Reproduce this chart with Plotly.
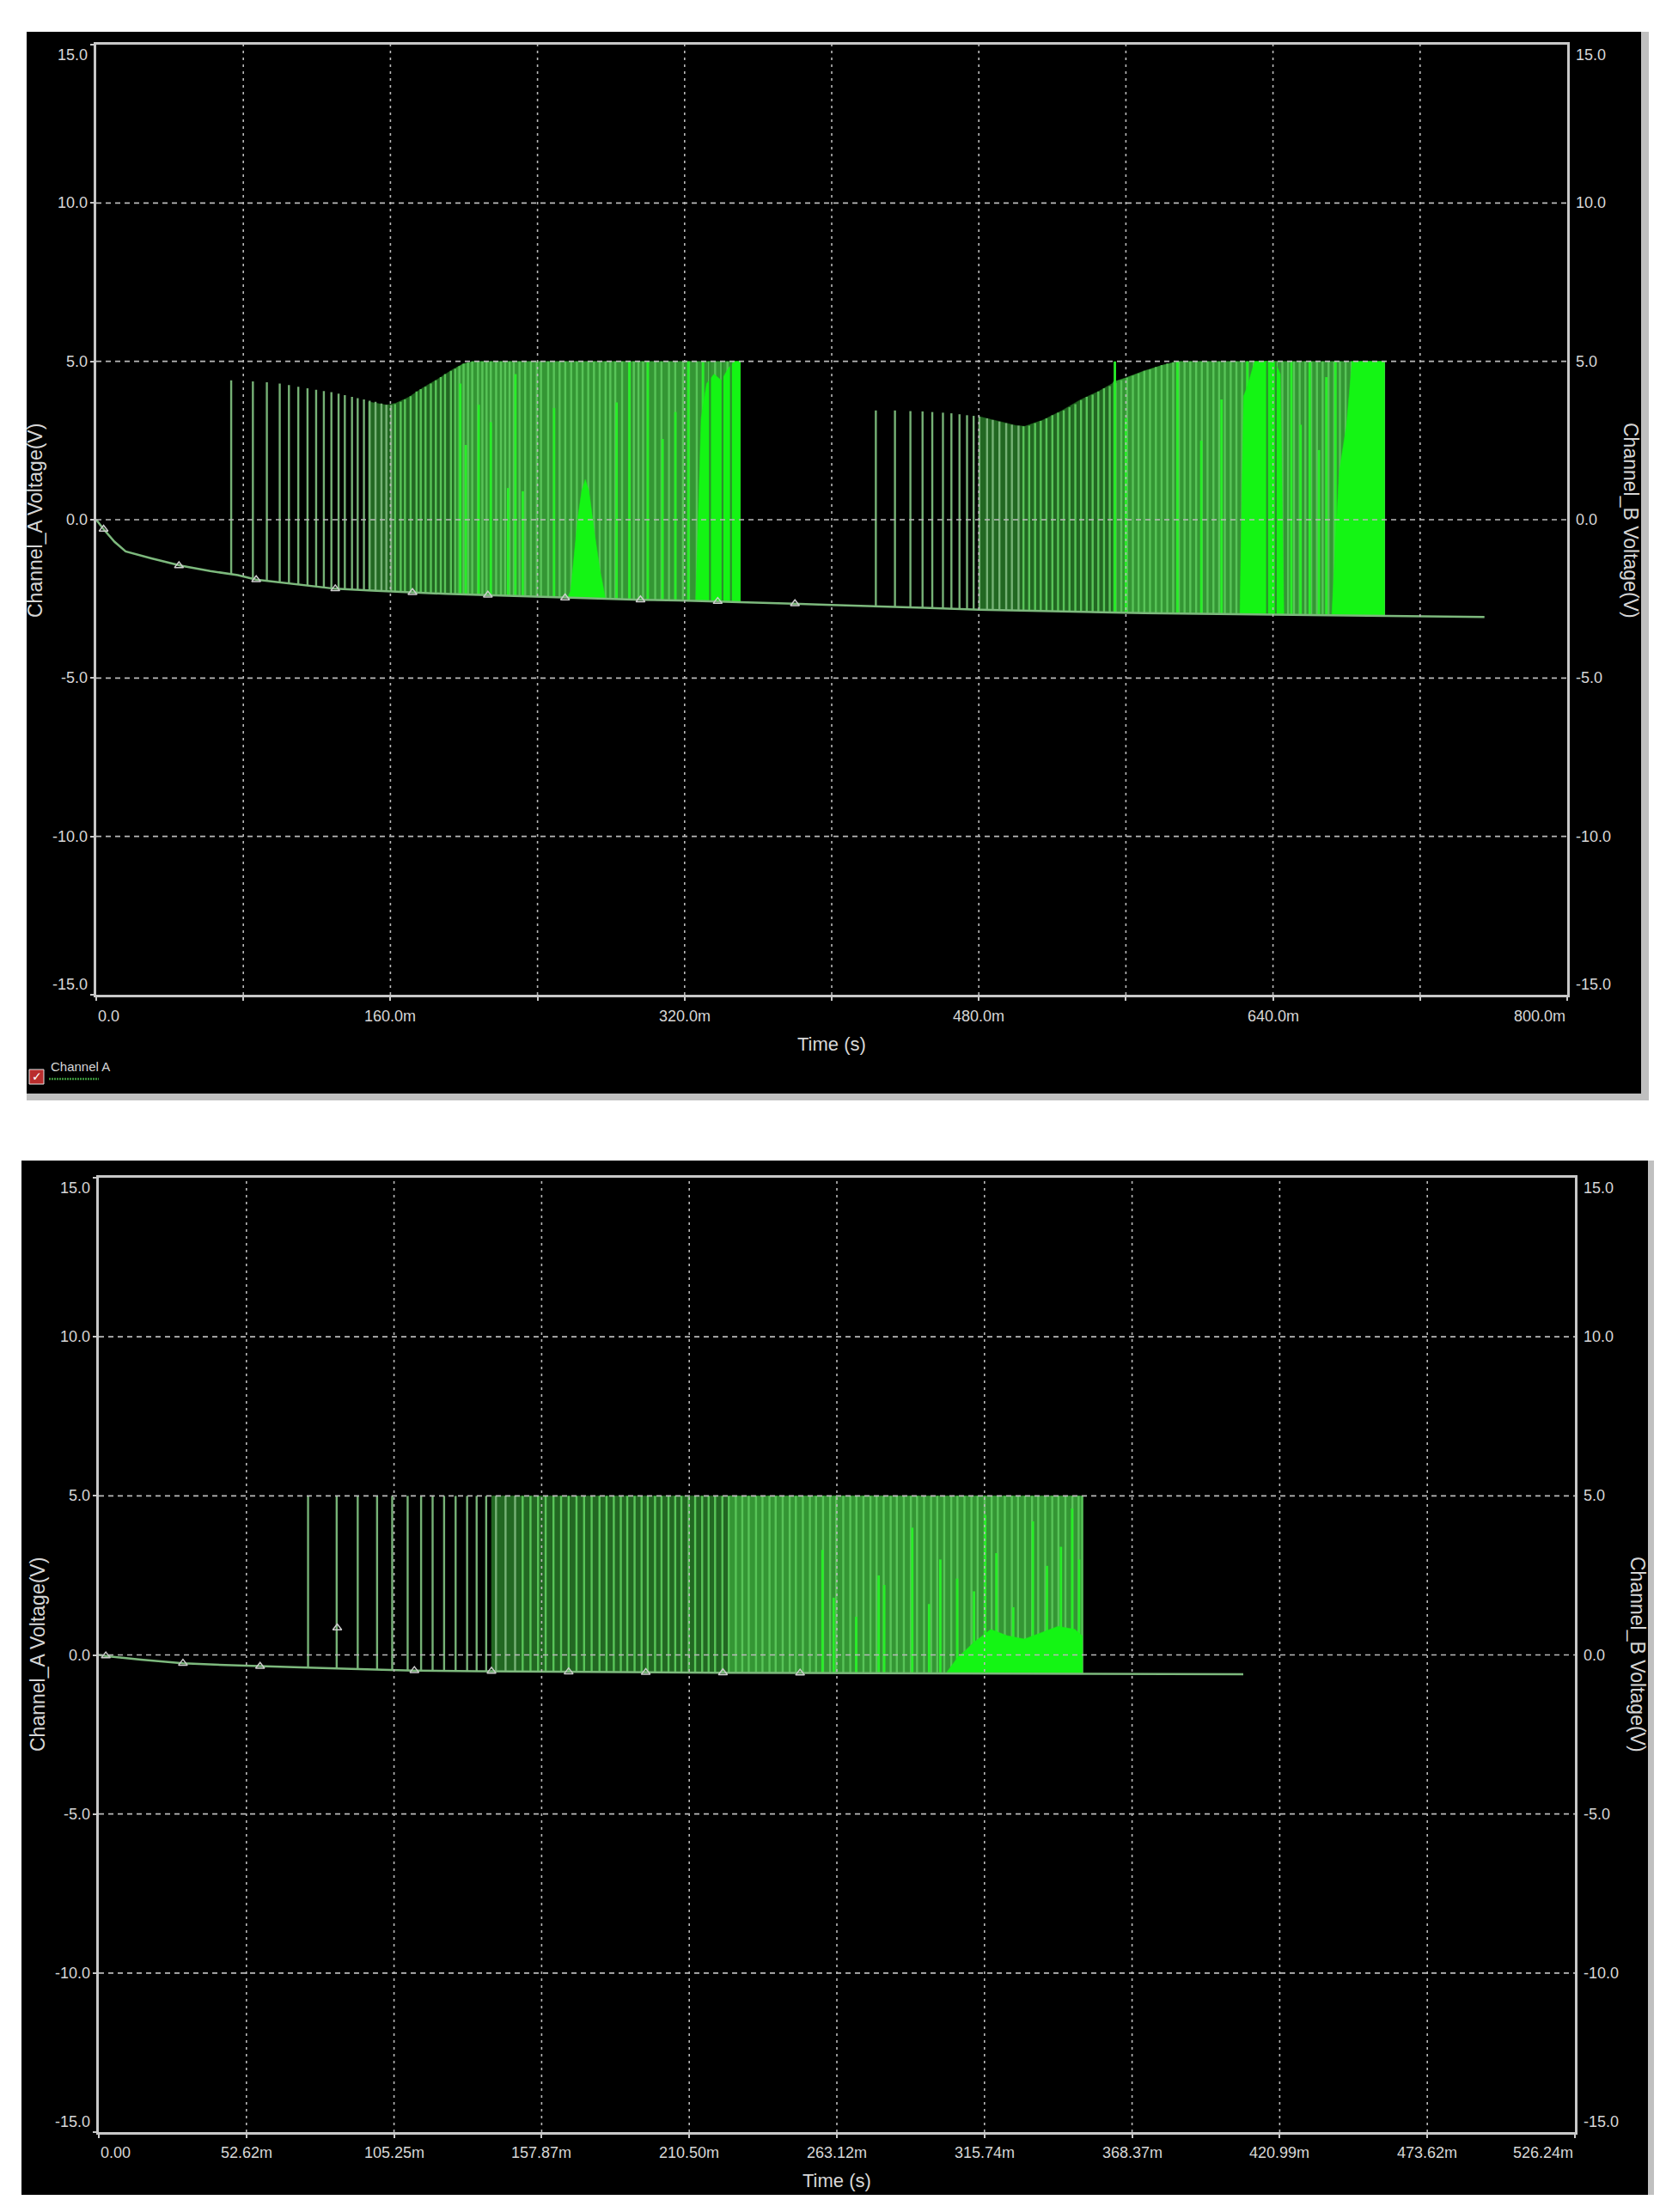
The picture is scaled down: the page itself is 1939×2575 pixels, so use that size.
import plotly.graph_objects as go

W, H = 1939, 2575

# ---------------- data (time in ms, voltage in V) ----------------
top_xticks = [0, 80, 160, 240, 320, 400, 480, 560, 640, 720, 800]
top_xlabels = ["0.0", "", "160.0m", "", "320.0m", "", "480.0m", "", "640.0m", "", "800.0m"]
bot_xticks = [0, 52.624, 105.248, 157.872, 210.496, 263.12, 315.744, 368.368, 420.992, 473.616, 526.24]
bot_xlabels = ["0.00", "52.62m", "105.25m", "157.87m", "210.50m", "263.12m", "315.74m",
               "368.37m", "420.99m", "473.62m", "526.24m"]
y_ticks = [-15, -10, -5, 0, 5, 10, 15]
y_labels = ["-15.0", "-10.0", "-5.0", "0.0", "5.0", "10.0", "15.0"]

# top panel baseline (Channel A)
base1_t = [0, 4, 10, 16, 30, 46, 62, 77, 87, 100, 115, 130, 150, 170, 190, 212, 233, 254, 275, 296,
           317, 338, 358, 379, 400, 420, 450, 480, 510, 540, 570, 600, 630, 650, 680, 700, 730, 755]
base1_v = [0.0, -0.3, -0.7, -1.0, -1.22, -1.45, -1.62, -1.75, -1.89, -1.98, -2.08, -2.18, -2.24, -2.3,
           -2.34, -2.38, -2.42, -2.47, -2.5, -2.53, -2.55, -2.58, -2.62, -2.65, -2.69, -2.72, -2.78,
           -2.84, -2.88, -2.92, -2.95, -2.97, -2.99, -3.01, -3.03, -3.05, -3.06, -3.07]
mk1_t = [4, 45, 87, 130, 172, 213, 255, 296, 338, 380]
mk1_v = [-0.3, -1.45, -1.89, -2.18, -2.3, -2.38, -2.47, -2.53, -2.58, -2.65]

# top panel pulse train 1 (sparse part, then dense part)
p1s_t = [73.4, 85.2, 92.8, 99.8, 104.8, 109.9, 114.9, 119.6, 123.8, 127.9,
         131.8, 135.2, 139.1, 142.2, 145.6, 148.7, 151.9, 155.1, 157.8, 160.4]
p1s_v = [4.4, 4.37, 4.34, 4.3, 4.25, 4.2, 4.15, 4.1, 4.06, 4.03,
         3.98, 3.93, 3.88, 3.84, 3.8, 3.76, 3.72, 3.67, 3.63, 3.62]
p1d_t = [162.5, 165.6, 167.9, 171.0, 174.2, 176.5, 179.1, 182.0, 184.7, 187.4,
         189.7, 192.9, 195.2, 197.5, 199.8, 202.2, 204.5, 207.6, 210.0, 212.3,
         214.6, 217.5, 220.1, 222.4, 224.8, 227.1, 230.2, 233.3, 236.4, 239.6,
         241.9, 245.8, 248.9, 252.0, 255.1, 258.3, 261.4, 264.5, 267.6, 270.7,
         273.8, 277.0, 279.6, 282.3, 286.0, 289.8, 292.4, 294.9, 297.4, 299.9,
         304.0, 307.4, 311.5, 314.9, 319.1, 322.4, 326.6, 329.9, 333.3, 336.6,
         339.9, 343.3, 346.6, 349.1]
p1d_v = [3.65, 3.72, 3.8, 3.9, 4.05, 4.12, 4.2, 4.3, 4.4, 4.5,
         4.6, 4.7, 4.77, 4.85, 4.92, 4.97, 5.0, 5.0, 5.0, 5.0,
         5.0, 5.0, 5.0, 5.0, 5.0, 5.0, 5.0, 5.0, 5.0, 5.0,
         5.0, 5.0, 5.0, 5.0, 5.0, 5.0, 5.0, 5.0, 5.0, 5.0,
         5.0, 5.0, 5.0, 5.0, 5.0, 5.0, 5.0, 5.0, 5.0, 5.0,
         5.0, 5.0, 5.0, 5.0, 5.0, 5.0, 5.0, 5.0, 5.0, 5.0,
         5.0, 5.0, 5.0, 5.0]
# top panel pulse train 2 (sparse part, then dense part)
p2s_t = [424.0, 434.4, 442.8, 449.4, 454.7, 460.5, 465.1, 469.5, 473.6, 477.2,
         480.3, 484.5, 487.6, 491.2, 494.9, 498.0, 501.6]
p2s_v = [3.45, 3.45, 3.43, 3.42, 3.4, 3.38, 3.36, 3.33, 3.3, 3.28,
         3.26, 3.2, 3.15, 3.1, 3.05, 3.0, 2.97]
p2d_t = [504.3, 507.4, 510.6,
         513.7, 516.8, 520.0, 523.1, 526.2, 529.3, 532.5, 535.6, 538.7, 541.9,
         545.0, 548.1, 551.2, 554.4, 557.5, 560.6, 563.8, 566.9, 570.0, 573.1,
         576.3, 579.4, 582.5, 585.7, 588.8, 591.9, 595.0, 598.2, 601.3, 604.4,
         607.6, 610.7, 613.8, 617.0, 620.1, 623.2, 626.3, 629.5, 632.6, 635.7,
         638.9, 642.0, 645.1, 648.2, 651.4, 654.5, 657.6, 660.8, 663.9, 667.0,
         670.2, 673.3, 676.4, 679.5, 682.7, 685.8, 688.9, 692.1, 695.2, 698.3,
         700.4]
p2d_v = [2.95, 2.97, 3.05,
         3.12, 3.2, 3.3, 3.38, 3.45, 3.55, 3.65, 3.78, 3.88, 3.95,
         4.05, 4.15, 4.22, 4.32, 4.4, 4.48, 4.55, 4.62, 4.7, 4.75,
         4.82, 4.88, 4.93, 4.97, 5.0, 5.0, 5.0, 5.0, 5.0, 5.0,
         5.0, 5.0, 5.0, 5.0, 5.0, 5.0, 5.0, 5.0, 5.0, 5.0,
         5.0, 5.0, 5.0, 5.0, 5.0, 5.0, 5.0, 5.0, 5.0, 5.0,
         5.0, 5.0, 5.0, 5.0, 5.0, 5.0, 5.0, 5.0, 5.0, 5.0,
         5.0]
# bright partial spikes, top panel
br1_t = [198, 201, 208, 214.6, 224, 228, 232, 249, 283, 290, 300, 308, 315, 322, 330]
br1_v = [4.3, 2.36, 3.63, 3.08, 1.0, 4.6, 0.9, 3.53, 3.7, 5.0, 5.0, 2.55, 3.4, 5.0, 5.0]
br2_t = [554, 560, 588, 601, 612, 626, 634, 650, 655, 660, 665, 669, 674]
br2_v = [5.0, 3.2, 5.0, 2.5, 3.8, 5.0, 4.6, 5.0, 3.0, 5.0, 2.2, 4.5, 5.0]
# darker stripes inside the bright bursts, top panel
ds1_t = [333.8, 340.6, 345.2, 636.8, 641.5]
ds1_v = [5.0, 5.0, 5.0, 5.0, 5.0]
# bright filled bursts (top edges), top panel
bp1a_t = [256, 258, 262, 264, 266, 268, 271, 274, 277]
bp1a_v = [-2.5, -2.25, 0.1, 0.9, 1.27, 0.9, -0.43, -1.6, -2.5]
bp1b_t = [326, 329, 332, 336, 340, 344, 347, 350.3]
bp1b_v = [-2.6, 3.2, 4.3, 4.6, 4.4, 4.8, 5.0, 5.0]
bp2a_t = [622, 624, 626, 630, 636, 641, 644, 646]
bp2a_v = [-2.95, 3.9, 4.2, 5.0, 5.0, 5.0, 4.6, -2.95]
bp2b_t = [672, 676, 680, 683, 700.6]
bp2b_v = [-3.0, 1.5, 3.0, 5.0, 5.0]
# dense-region background (top edges), top panel
f1a_t = [148, 158, 163, 170, 178, 186, 194, 200]
f1a_v = [3.72, 3.62, 3.68, 3.87, 4.18, 4.45, 4.75, 4.93]
f1b_t = [196, 200, 205, 350.3]
f1b_v = [4.8, 4.93, 5.0, 5.0]
f2a_t = [480, 490, 500, 505, 515, 525, 535, 545, 555]
f2a_v = [3.26, 3.12, 2.98, 2.95, 3.15, 3.44, 3.78, 4.05, 4.38]
f2b_t = [553, 560, 570, 580, 588, 700.5]
f2b_v = [4.35, 4.48, 4.7, 4.88, 5.0, 5.0]

# bottom panel baseline
base2_t = [0, 3, 15, 30, 45, 57, 72, 90, 112, 135, 160, 190, 220, 250, 280, 315, 350, 380, 408]
base2_v = [0.0, -0.04, -0.15, -0.26, -0.32, -0.36, -0.39, -0.44, -0.49, -0.51, -0.53, -0.55,
           -0.56, -0.57, -0.58, -0.59, -0.6, -0.61, -0.61]
mk2_t = [2.5, 30, 57.5, 85, 112.5, 140, 167.5, 195, 222.5, 250]
mk2_v = [-0.03, -0.26, -0.36, 0.85, -0.49, -0.51, -0.53, -0.55, -0.56, -0.57]
p3s_t = [74.6, 84.8, 92.3, 99.2, 104.6, 110.1, 114.9, 119.0, 123.1, 127.2,
         131.3, 134.7, 138.1, 141.6, 145.0, 148.4]
p3d_t = [151.1, 153.9, 156.6, 159.3,
         162.1, 164.8, 167.5, 170.3, 173.0, 175.7, 178.5, 181.0, 183.6, 186.1,
         188.4, 191.0, 193.5, 195.7, 198.3, 200.6, 203.1, 205.5, 207.7, 210.3,
         212.6, 215.1, 217.4, 219.7, 222.3, 224.6, 227.1, 229.4, 231.7, 234.3,
         236.6, 239.1, 241.3, 243.8, 246.3, 248.5, 251.0, 253.5, 255.7, 258.2,
         260.7, 262.9, 265.4, 267.9, 270.1, 272.6, 275.1, 277.3, 279.8, 282.3,
         284.5, 287.0, 289.5, 291.7, 294.2, 296.7, 298.9, 301.4, 303.9, 306.1,
         308.6, 311.1, 313.3, 315.8, 318.3, 320.5, 323.0, 325.5, 327.7, 330.2,
         332.7, 334.9, 337.4, 339.9, 342.1, 344.6, 347.1, 349.3, 350.6]
p3_peak = 5.0
br3_t = [258, 262, 270, 278, 280, 290, 296, 300, 306, 312, 316, 320, 326, 333, 338, 343, 347, 349.5]
br3_v = [3.3, 1.8, 1.2, 2.5, 2.2, 4.0, 1.6, 3.0, 2.4, 2.0, 4.4, 3.2, 1.5, 4.2, 2.8, 3.4, 4.6, 3.0]
bp3_t = [302, 306, 312, 318, 324, 330, 336, 342, 348, 350.6]
bp3_v = [-0.58, -0.1, 0.4, 0.8, 0.6, 0.5, 0.7, 0.9, 0.8, 0.6]
f3a_t = [140, 228]
f3a_v = [5.0, 5.0]
f3b_t = [225, 350.6]
f3b_v = [5.0, 5.0]

# ---------------- styling ----------------
FONT = "Liberation Sans, Arial, sans-serif"
TXT = "rgb(215,215,215)"
AXC = "rgb(200,200,200)"
GRID = "rgb(185,185,185)"
DARK = "rgb(34,104,34)"
MED = "rgb(52,150,52)"
PULSE_SPARSE = "rgb(118,178,118)"
PULSE_DENSE = "rgb(88,196,88)"
BRIGHT = "rgb(40,238,40)"
BRIGHTFILL = "rgb(20,245,20)"
STRIPE = "rgb(45,140,45)"
BASEC = "rgb(125,185,125)"

fig = go.Figure()


def poly(t, v, floor, color, xa, ya):
    fig.add_trace(go.Scatter(x=[t[0]] + list(t) + [t[-1]], y=[floor] + list(v) + [floor],
                             mode="lines", fill="toself", fillcolor=color,
                             line=dict(width=0.5, color=color),
                             hoverinfo="skip", showlegend=False, xaxis=xa, yaxis=ya))


def spikes(t, v, floor, color, width, xa, ya):
    xs, ys = [], []
    for ti, vi in zip(t, v):
        xs += [ti, ti, None]
        ys += [floor, vi, None]
    fig.add_trace(go.Scatter(x=xs, y=ys, mode="lines", line=dict(color=color, width=width),
                             hoverinfo="skip", showlegend=False, xaxis=xa, yaxis=ya))


def mask(t, v, floor, xa, ya):
    fig.add_trace(go.Scatter(x=list(t) + list(t[::-1]), y=list(v) + [floor] * len(t),
                             mode="lines", fill="toself", fillcolor="black", line=dict(width=0),
                             hoverinfo="skip", showlegend=False, xaxis=xa, yaxis=ya))


def baseline(t, v, mt, mv, xa, ya):
    fig.add_trace(go.Scatter(x=t, y=v, mode="lines", line=dict(color=BASEC, width=2.5),
                             hoverinfo="skip", showlegend=False, xaxis=xa, yaxis=ya))
    fig.add_trace(go.Scatter(x=mt, y=mv, mode="markers",
                             marker=dict(symbol="triangle-up-open", size=9,
                                         color="rgb(205,205,205)", line=dict(width=1.5)),
                             hoverinfo="skip", showlegend=False, xaxis=xa, yaxis=ya))


# ---- top panel traces ----
FL1 = -3.3
poly(f1a_t, f1a_v, FL1, DARK, "x", "y")
poly(f1b_t, f1b_v, FL1, MED, "x", "y")
poly(f2a_t, f2a_v, FL1, DARK, "x", "y")
poly(f2b_t, f2b_v, FL1, MED, "x", "y")
spikes(p1s_t, p1s_v, FL1, PULSE_SPARSE, 2.4, "x", "y")
spikes(p1d_t, p1d_v, FL1, PULSE_DENSE, 2.4, "x", "y")
spikes(p2s_t, p2s_v, FL1, PULSE_SPARSE, 2.4, "x", "y")
spikes(p2d_t, p2d_v, FL1, PULSE_DENSE, 2.4, "x", "y")
spikes(br1_t, br1_v, FL1, BRIGHT, 2.8, "x", "y")
spikes(br2_t, br2_v, FL1, BRIGHT, 2.8, "x", "y")
poly(bp1a_t, bp1a_v, FL1, BRIGHTFILL, "x", "y")
poly(bp1b_t, bp1b_v, FL1, BRIGHTFILL, "x", "y")
poly(bp2a_t, bp2a_v, FL1, BRIGHTFILL, "x", "y")
poly(bp2b_t, bp2b_v, FL1, BRIGHTFILL, "x", "y")
spikes(ds1_t, ds1_v, FL1, STRIPE, 2.2, "x", "y")
mask(base1_t, base1_v, -3.8, "x", "y")
baseline(base1_t, base1_v, mk1_t, mk1_v, "x", "y")

# ---- bottom panel traces ----
FL2 = -0.8
poly(f3a_t, f3a_v, FL2, DARK, "x2", "y2")
poly(f3b_t, f3b_v, FL2, MED, "x2", "y2")
spikes(p3s_t, [p3_peak] * len(p3s_t), FL2, PULSE_SPARSE, 2.4, "x2", "y2")
spikes(p3d_t, [p3_peak] * len(p3d_t), FL2, PULSE_DENSE, 2.4, "x2", "y2")
spikes(br3_t, br3_v, FL2, BRIGHT, 2.8, "x2", "y2")
poly(bp3_t, bp3_v, FL2, BRIGHTFILL, "x2", "y2")
mask(base2_t, base2_v, -1.1, "x2", "y2")
baseline(base2_t, base2_v, mk2_t, mk2_v, "x2", "y2")

# ---------------- layout ----------------
def px(xp):
    return xp / W


def py(yp):
    return 1 - yp / H


top_dom_x = [px(104), px(1816)]
top_dom_y = [py(1150), py(44)]
bot_dom_x = [px(107), px(1825)]
bot_dom_y = [py(2474), py(1363)]

axis_common = dict(showgrid=False, zeroline=False, showline=True, linecolor=AXC, linewidth=2.5,
                   mirror=True, ticks="outside", ticklen=4, tickcolor=AXC, tickwidth=2,
                   showticklabels=False, fixedrange=True)

fig.update_layout(
    width=W, height=H, margin=dict(l=0, r=0, t=0, b=0),
    paper_bgcolor="white", plot_bgcolor="black", showlegend=False,
    xaxis=dict(domain=top_dom_x, range=[0, 800], anchor="y", tickvals=top_xticks, **axis_common),
    yaxis=dict(domain=top_dom_y, range=[-15, 15], anchor="x", tickvals=y_ticks, **axis_common),
    xaxis2=dict(domain=bot_dom_x, range=[0, 526.24], anchor="y2", tickvals=bot_xticks, **axis_common),
    yaxis2=dict(domain=bot_dom_y, range=[-15, 15], anchor="x2", tickvals=y_ticks, **axis_common),
)

shapes = []
# panel backgrounds and frame borders
shapes.append(dict(type="rect", xref="paper", yref="paper", x0=px(23), x1=px(1902), y0=py(1265), y1=py(29),
                   fillcolor="black", line=dict(width=0), layer="below"))
shapes.append(dict(type="rect", xref="paper", yref="paper", x0=px(1902), x1=px(1911), y0=py(1273), y1=py(29),
                   fillcolor="rgb(192,192,192)", line=dict(width=0), layer="below"))
shapes.append(dict(type="rect", xref="paper", yref="paper", x0=px(23), x1=px(1911), y0=py(1273), y1=py(1265),
                   fillcolor="rgb(192,192,192)", line=dict(width=0), layer="below"))
shapes.append(dict(type="rect", xref="paper", yref="paper", x0=px(17), x1=px(1910), y0=py(2547), y1=py(1343),
                   fillcolor="black", line=dict(width=0), layer="below"))
shapes.append(dict(type="rect", xref="paper", yref="paper", x0=px(1910), x1=px(1917), y0=py(2547), y1=py(1343),
                   fillcolor="rgb(192,192,192)", line=dict(width=0), layer="below"))

# grid lines drawn above the traces (as in the reference)
for xa, ya, ticks in (("x", "y", top_xticks), ("x2", "y2", bot_xticks)):
    for gx in ticks[1:-1]:
        shapes.append(dict(type="line", xref=xa, yref=ya + " domain", x0=gx, x1=gx, y0=0, y1=1,
                           line=dict(color=GRID, width=1.6, dash="3px,5px"), layer="above"))
    for gy in y_ticks[1:-1]:
        shapes.append(dict(type="line", xref=xa + " domain", yref=ya, x0=0, x1=1, y0=gy, y1=gy,
                           line=dict(color=GRID, width=1.6, dash="6px,5px"), layer="above"))

# legend pieces
shapes.append(dict(type="rect", xref="paper", yref="paper", x0=px(26), x1=px(43), y0=py(1254), y1=py(1237),
                   fillcolor="rgb(185,45,45)", line=dict(color="rgb(230,230,230)", width=1)))
shapes.append(dict(type="line", xref="paper", yref="paper", x0=px(49), x1=px(107), y0=py(1248), y1=py(1248),
                   line=dict(color="rgb(60,150,60)", width=2.5, dash="2px,1px")))
fig.update_layout(shapes=shapes)

ann = []
tick_font = dict(family=FONT, size=18, color=TXT)
# x tick labels
for xa, ya, ticks, labels, ysh in (("x", "y", top_xticks, top_xlabels, -13),
                                   ("x2", "y2", bot_xticks, bot_xlabels, -12)):
    for i, (tv, tl) in enumerate(zip(ticks, labels)):
        if not tl:
            continue
        anchor = "left" if i == 0 else ("right" if i == len(ticks) - 1 else "center")
        ann.append(dict(x=tv, y=0, xref=xa, yref=ya + " domain", text=tl, showarrow=False,
                        xanchor=anchor, yanchor="top", yshift=ysh, font=tick_font))
# y tick labels (both sides)
for xa, ya in (("x", "y"), ("x2", "y2")):
    for tv, tl in zip(y_ticks, y_labels):
        va = "top" if tv == 15 else ("bottom" if tv == -15 else "middle")
        ann.append(dict(x=0, y=tv, xref=xa + " domain", yref=ya, text=tl, showarrow=False,
                        xanchor="right", yanchor=va, xshift=-8, font=tick_font))
        ann.append(dict(x=1, y=tv, xref=xa + " domain", yref=ya, text=tl, showarrow=False,
                        xanchor="left", yanchor=va, xshift=8, font=tick_font))

title_font = dict(family=FONT, size=22, color=TXT)
ann.append(dict(x=px(960), y=py(1207), xref="paper", yref="paper", text="Time (s)", showarrow=False,
                xanchor="center", yanchor="middle", font=title_font))
ann.append(dict(x=px(966), y=py(2530), xref="paper", yref="paper", text="Time (s)", showarrow=False,
                xanchor="center", yanchor="middle", font=title_font))
ytitle_font = dict(family=FONT, size=23, color=TXT)
for xl, xr, yc in ((33, 1890, 598), (36, 1898, 1918)):
    ann.append(dict(x=px(xl), y=py(yc), xref="paper", yref="paper", text="Channel_A Voltage(V)",
                    showarrow=False, textangle=-90, xanchor="center", yanchor="middle", font=ytitle_font))
    ann.append(dict(x=px(xr), y=py(yc), xref="paper", yref="paper", text="Channel_B Voltage(V)",
                    showarrow=False, textangle=90, xanchor="center", yanchor="middle", font=ytitle_font))
# legend text and check mark
ann.append(dict(x=px(49), y=py(1234), xref="paper", yref="paper", text="Channel A", showarrow=False,
                xanchor="left", yanchor="middle", font=dict(family=FONT, size=15, color=TXT)))
ann.append(dict(x=px(34.5), y=py(1245.5), xref="paper", yref="paper", text="✓", showarrow=False,
                xanchor="center", yanchor="middle", font=dict(family="DejaVu Sans", size=14, color="white")))
fig.update_layout(annotations=ann)

fig.write_html("out.html")
